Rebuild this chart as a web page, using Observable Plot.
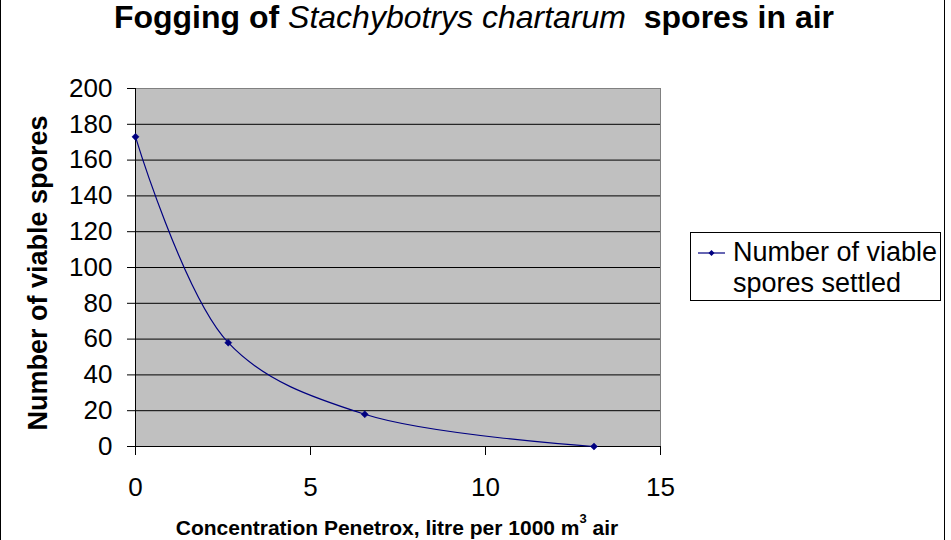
<!DOCTYPE html>
<html><head><meta charset="utf-8">
<script src="https://cdn.jsdelivr.net/npm/d3@7"></script>
<script src="https://cdn.jsdelivr.net/npm/@observablehq/plot@0.6"></script>
<style>
body{margin:0;background:#fff;}
#wrap{position:relative;width:951px;height:540px;overflow:hidden;font-family:Arial,"Liberation Sans",sans-serif;color:#000;}
#wrap svg{position:absolute;left:0;top:0;}
.border{position:absolute;top:0;left:0;width:943px;height:600px;border-left:1px solid #000;border-right:1px solid #000;}
#title{position:absolute;left:0;width:948px;top:-1px;text-align:center;font-size:32px;font-weight:bold;white-space:pre;}
#title i{font-weight:normal;}
#ytitle{position:absolute;left:38px;top:273px;transform:translate(-50%,-50%) rotate(-90deg);font-size:27px;font-weight:bold;white-space:nowrap;}
#xtitle{position:absolute;left:397px;top:516px;transform:translateX(-50%);font-size:21px;font-weight:bold;white-space:nowrap;}
#xtitle sup{font-size:13px;vertical-align:top;position:relative;top:-5px;}
#legend{position:absolute;left:690px;top:232px;width:251px;height:69px;border:1px solid #000;background:#fff;box-sizing:border-box;}
#legend svg{position:absolute;left:7px;top:14px;}
#legend .txt{position:absolute;left:42px;top:4px;font-size:27px;line-height:31px;white-space:nowrap;}
</style></head><body>
<div id="wrap">
<div class="border"></div>
</div>
<script>
// data
const concentration = [0, 2.65, 6.55, 13.1];
const viableSpores = [173, 58, 18, 0];
const xTicks = [0, 5, 10, 15];
const yTicks = [0, 20, 40, 60, 80, 100, 120, 140, 160, 180, 200];
const seriesName = ["Number of viable", "spores settled"];
const titleParts = ["Fogging of ", "Stachybotrys chartarum", "  spores in air"];
const xTitle = "Concentration Penetrox, litre per 1000 m";
const yTitle = "Number of viable spores";

const data = concentration.map((x, i) => ({x, y: viableSpores[i]}));
const navy = "#000080";
const font = 'Arial, "Liberation Sans", sans-serif';

const plot = Plot.plot({
  width: 951, height: 540,
  marginLeft: 135, marginRight: 291, marginTop: 88, marginBottom: 94,
  style: {fontFamily: font, fontSize: "26px", color: "#000", background: "transparent"},
  x: {domain: [0, 15], label: null},
  y: {domain: [0, 200], label: null},
  marks: [
    Plot.frame({fill: "#c0c0c0", stroke: "#808080"}),
    Plot.ruleY(yTicks.filter(d => d > 0 && d < 200), {stroke: "#000", strokeWidth: 1}),
    Plot.ruleX([0], {stroke: "#000"}),
    Plot.ruleY([0], {stroke: "#000"}),
    Plot.axisY({ticks: yTicks, tickSize: 8, tickPadding: 15, fontSize: 26, label: null, stroke: "#000"}),
    Plot.axisX({ticks: xTicks, tickSize: 9, tickPadding: 22, fontSize: 26, label: null, stroke: "#000"}),
    Plot.line(data, {x: "x", y: "y", curve: "catmull-rom", stroke: navy, strokeWidth: 1.2}),
    Plot.dot(data, {x: "x", y: "y", symbol: "diamond2", r: 3.2, fill: navy, stroke: navy, strokeWidth: 0.5})
  ]
});
const wrap = document.getElementById("wrap");
wrap.appendChild(plot);

const t = document.createElement("div");
t.id = "title";
t.innerHTML = `${titleParts[0]}<i>${titleParts[1]}</i>${titleParts[2]}`;
wrap.appendChild(t);

const yt = document.createElement("div");
yt.id = "ytitle"; yt.textContent = yTitle; wrap.appendChild(yt);

const xt = document.createElement("div");
xt.id = "xtitle"; xt.innerHTML = `${xTitle}<sup>3</sup> air`; wrap.appendChild(xt);

const lg = document.createElement("div");
lg.id = "legend";
lg.innerHTML = `<svg width="30" height="12"><line x1="0" y1="6" x2="27" y2="6" stroke="${navy}" stroke-width="1.2"/><path d="M13.5,3L16.5,6L13.5,9L10.5,6Z" fill="${navy}"/></svg><div class="txt">${seriesName[0]}<br>${seriesName[1]}</div>`;
wrap.appendChild(lg);
</script>
</body></html>
